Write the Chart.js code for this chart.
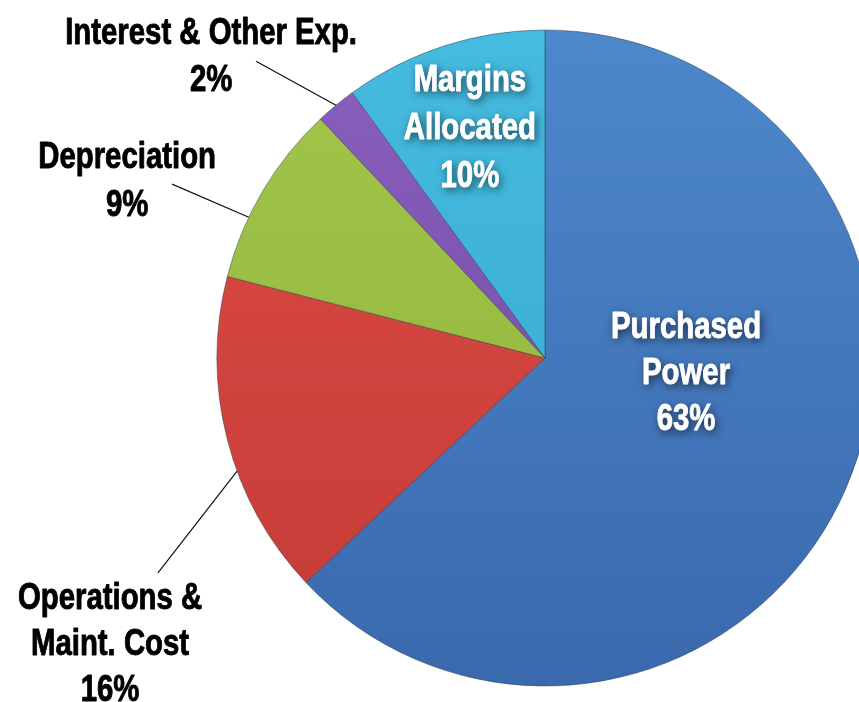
<!DOCTYPE html>
<html lang="en">
<head>
    <meta charset="UTF-8">
    <title>Expense Breakdown</title>
    <style>
        html, body {
            margin: 0;
            padding: 0;
            background: #fff;
            overflow: hidden;
            width: 859px;
            height: 702px;
        }
        /* pie runs off the right edge in the original, so the box is wider than the window */
        .wrap {
            position: absolute;
            left: 0;
            top: 0;
            width: 1090px;
            height: 716px;
        }
    </style>
    <script src="https://cdn.jsdelivr.net/npm/chart.js"></script>
</head>
<body>
    <div class="wrap"><canvas id="pie"></canvas></div>

    <script>
        // data
        const categories = ['Purchased Power', 'Operations & Maint. Cost', 'Depreciation', 'Interest & Other Exp.', 'Margins Allocated'];
        const shares = [63, 16, 9, 2, 10];
        const labelLines = [
            ['Purchased', 'Power'],
            ['Operations &', 'Maint. Cost'],
            ['Depreciation'],
            ['Interest & Other Exp.'],
            ['Margins', 'Allocated']
        ];
        const topColors = ['#4d88cb', '#dd4b44', '#a2c64a', '#8a5fbe', '#45bbdf'];
        const bottomColors = ['#3a68ad', '#c53b37', '#8fb33c', '#7048a3', '#36a6cc'];

        // no condensed face installed, so squeeze a bold sans horizontally
        const FONT = "bold 36px 'Liberation Sans', Arial, sans-serif";
        const SQUEEZE = 0.815;

        // where each label sits, in pie-radius units from the centre
        // edge = fraction along the slice where a leader line touches the rim
        const spots = [
            { x: 0.43, y: -0.10, inside: true, gap: 46 },
            { x: -1.326, y: 0.726, gap: 46, edge: 0.40, lead: [-1.18, 0.655] },
            { x: -1.274, y: -0.619, gap: 48, edge: 0.34, lead: [-1.137, -0.53] },
            { x: -1.018, y: -0.997, gap: 47, edge: 0.5, lead: [-0.881, -0.905] },
            { x: -0.229, y: -0.854, inside: true, gap: 48 }
        ];

        function sliceFill(c) {
            const i = c.dataIndex;
            if (!c.chart.chartArea) return topColors[i];
            const g = c.chart.ctx.createLinearGradient(0, 30, 0, 690);
            g.addColorStop(0, topColors[i]);
            g.addColorStop(1, bottomColors[i]);
            return g;
        }

        const labelPlugin = {
            id: 'sliceLabels',
            afterDatasetsDraw(chart) {
                const ctx = chart.ctx;
                const arcs = chart.getDatasetMeta(0).data;
                ctx.save();
                ctx.font = FONT;
                ctx.textAlign = 'center';
                ctx.textBaseline = 'middle';
                ctx.lineJoin = 'round';
                arcs.forEach((arc, i) => {
                    const s = spots[i];
                    const R = arc.outerRadius;
                    const cx = arc.x, cy = arc.y;
                    const lines = labelLines[i].concat([shares[i] + '%']);
                    const tx = cx + s.x * R;
                    const ty = cy + s.y * R + 3;
                    const ink = s.inside ? '#ffffff' : '#000000';

                    if (!s.inside) {
                        // leader line from rim to the label
                        const a = arc.startAngle + (arc.endAngle - arc.startAngle) * s.edge;
                        ctx.strokeStyle = '#111';
                        ctx.lineWidth = 1.2;
                        ctx.beginPath();
                        ctx.moveTo(cx + Math.cos(a) * R, cy + Math.sin(a) * R);
                        ctx.lineTo(cx + s.lead[0] * R, cy + s.lead[1] * R);
                        ctx.stroke();
                    }
                    ctx.fillStyle = ink;
                    ctx.strokeStyle = ink;
                    ctx.lineWidth = 0.9;
                    lines.forEach((txt, k) => {
                        ctx.save();
                        ctx.translate(tx, ty + k * s.gap);
                        ctx.scale(SQUEEZE, 1);
                        if (s.inside) {
                            ctx.shadowColor = 'rgba(0, 0, 0, 0.7)';
                            ctx.shadowBlur = 8;
                            ctx.shadowOffsetX = 2;
                            ctx.shadowOffsetY = 3;
                        }
                        ctx.fillText(txt, 0, 0);
                        ctx.shadowColor = 'transparent';
                        ctx.strokeText(txt, 0, 0);
                        ctx.restore();
                    });
                });
                ctx.restore();
            }
        };

        new Chart(document.getElementById('pie'), {
            type: 'pie',
            data: {
                labels: categories,
                datasets: [{
                    data: shares,
                    backgroundColor: sliceFill,
                    borderColor: 'rgba(40, 50, 70, 0.45)',
                    borderWidth: 1
                }]
            },
            options: {
                responsive: true,
                maintainAspectRatio: false,
                animation: false,
                events: [],
                radius: 328,
                layout: { padding: 0 },
                plugins: {
                    legend: { display: false },
                    tooltip: { enabled: false }
                }
            },
            plugins: [labelPlugin]
        });
    </script>
</body>
</html>
